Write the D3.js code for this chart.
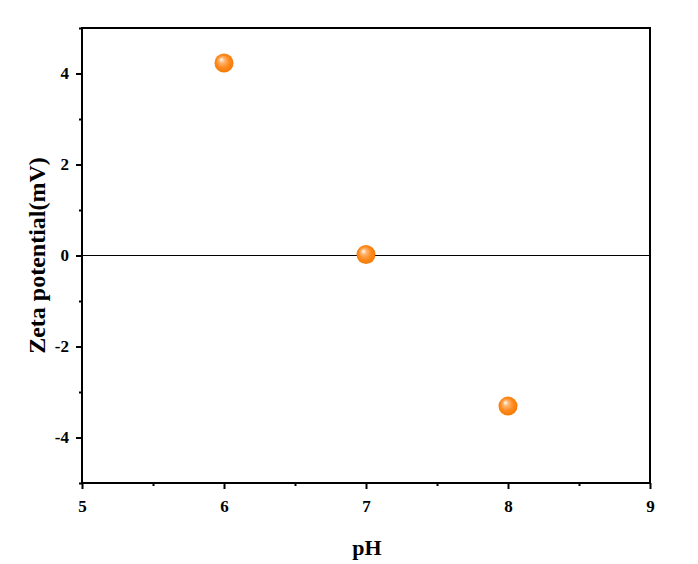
<!DOCTYPE html>
<html><head><meta charset="utf-8">
<script src="https://cdn.jsdelivr.net/npm/d3@7"></script>
<style>body{margin:0;background:#fff}</style>
</head><body>
<svg id="c" width="698" height="564"></svg>
<script>
const phValues = [6, 7, 8];
const zetaValues = [4.23, 0.02, -3.31];
const xTicks = [5, 6, 7, 8, 9];
const yTicks = [-4, -2, 0, 2, 4];

const svg = d3.select("#c");
const L = 82, R = 650, T = 28, B = 483;
const x = d3.scaleLinear().domain([5, 9]).range([L, R]);
const y = d3.scaleLinear().domain([-5, 5]).range([B, T]);
const font = "'Liberation Serif','Times New Roman',serif";

const defs = svg.append("defs");
const g = defs.append("radialGradient").attr("id", "ball")
  .attr("cx", "0.5").attr("cy", "0.5").attr("r", "0.55").attr("fx", "0.35").attr("fy", "0.3");
g.append("stop").attr("offset", "0%").attr("stop-color", "#ffffff");
g.append("stop").attr("offset", "25%").attr("stop-color", "#ffb877");
g.append("stop").attr("offset", "60%").attr("stop-color", "#ff8a1e");
g.append("stop").attr("offset", "100%").attr("stop-color", "#f07800");

// zero line
svg.append("line").attr("x1", L).attr("x2", R).attr("y1", y(0)).attr("y2", y(0))
  .attr("stroke", "#000").attr("stroke-width", 1);

// frame
svg.append("rect").attr("x", L).attr("y", T).attr("width", R - L).attr("height", B - T)
  .attr("fill", "none").attr("stroke", "#000").attr("stroke-width", 2);

// x axis
const xAx = svg.append("g").attr("transform", `translate(0,${B})`)
  .call(d3.axisBottom(x).tickValues(xTicks).tickFormat(d => String(d)).tickSize(6).tickPadding(11));
const xMinor = svg.append("g").attr("transform", `translate(0,${B})`)
  .call(d3.axisBottom(x).tickValues(d3.range(5.5, 9, 1)).tickFormat("").tickSize(3));
// y axis
const yAx = svg.append("g").attr("transform", `translate(${L},0)`)
  .call(d3.axisLeft(y).tickValues(yTicks).tickFormat(d => String(d)).tickSize(6).tickPadding(7));
const yMinor = svg.append("g").attr("transform", `translate(${L},0)`)
  .call(d3.axisLeft(y).tickValues([-5, -3, -1, 1, 3, 5]).tickFormat("").tickSize(3));

[xAx, xMinor, yAx, yMinor].forEach(a => {
  a.attr("font-size", null);
  a.select(".domain").remove();
  a.selectAll("line").attr("stroke", "#000").attr("stroke-width", 2);
  a.selectAll("text").attr("font-family", font).style("font-size", "17px").attr("font-weight", "bold").attr("fill", "#000");
});

// labels
svg.append("text").attr("x", (L + R) / 2 + 1).attr("y", 555).attr("text-anchor", "middle")
  .attr("font-family", font).style("font-size", "22px").attr("font-weight", "bold").text("pH");
svg.append("text").attr("transform", `translate(45,${(T + B) / 2}) rotate(-90)`).attr("text-anchor", "middle")
  .attr("font-family", font).style("font-size", "24px").attr("font-weight", "bold").text("Zeta potential(mV)");

// points
svg.append("g").selectAll("circle").data(phValues.map((p, i) => [p, zetaValues[i]])).join("circle")
  .attr("cx", d => x(d[0])).attr("cy", d => y(d[1])).attr("r", 9.5)
  .attr("fill", "url(#ball)");
</script>
</body></html>
